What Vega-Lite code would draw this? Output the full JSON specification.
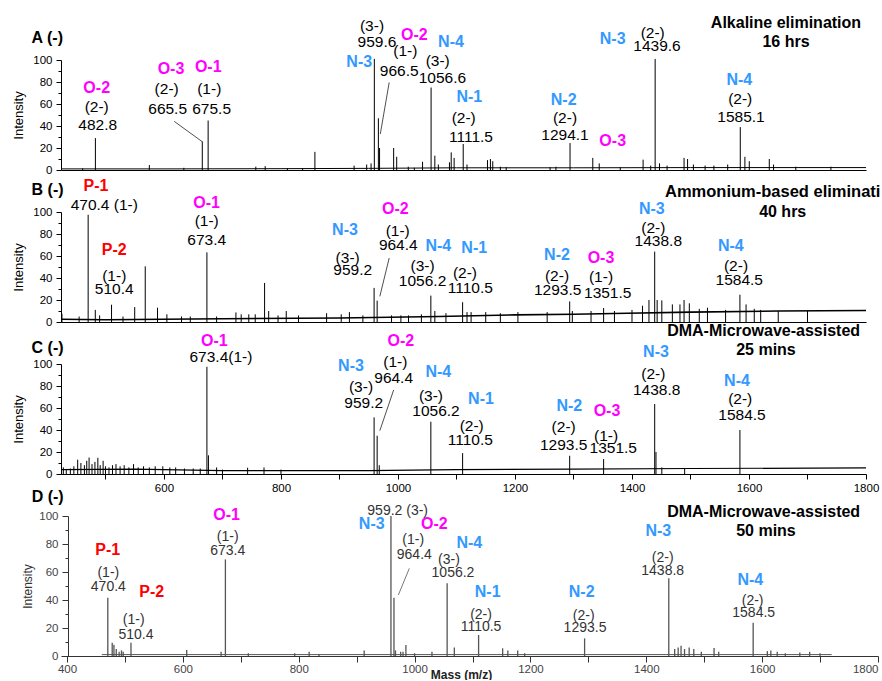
{
"$schema": "https://vega.github.io/schema/vega-lite/v6.json",
"background": "white",
"padding": {"left": 12, "top": 14, "right": 0, "bottom": 0},
"spacing": 42,
"bounds": "flush",
"config": {"font": "Liberation Sans", "view": {"stroke": null}, "axis": {"grid": false, "domainColor": "black", "tickColor": "black", "labelColor": "black", "labelFontSize": 11.5, "labelOverlap": false}},
"datasets": {
"peaks": [
{"p":"A","mz":461,"i":1.5},{"p":"A","mz":482.8,"i":29},{"p":"A","mz":575,"i":4.5},{"p":"A","mz":634,"i":2},{"p":"A","mz":665.5,"i":26},{"p":"A","mz":675.5,"i":45},{"p":"A","mz":757,"i":3},{"p":"A","mz":773,"i":3.5},{"p":"A","mz":811,"i":1.5},{"p":"A","mz":837,"i":1.5},{"p":"A","mz":858,"i":16.5},{"p":"A","mz":925,"i":4},{"p":"A","mz":946.5,"i":5},{"p":"A","mz":954,"i":6},{"p":"A","mz":959.6,"i":101},{"p":"A","mz":966.5,"i":47},{"p":"A","mz":968.5,"i":20},{"p":"A","mz":992.6,"i":20},{"p":"A","mz":997.8,"i":12},{"p":"A","mz":1017.6,"i":3},{"p":"A","mz":1028,"i":2},{"p":"A","mz":1042,"i":7.5},{"p":"A","mz":1056.6,"i":75},{"p":"A","mz":1063,"i":13},{"p":"A","mz":1069,"i":5},{"p":"A","mz":1088,"i":7},{"p":"A","mz":1091,"i":16},{"p":"A","mz":1096,"i":11},{"p":"A","mz":1111.5,"i":23.6},{"p":"A","mz":1118,"i":5},{"p":"A","mz":1153,"i":9},{"p":"A","mz":1158,"i":10},{"p":"A","mz":1162,"i":8},{"p":"A","mz":1175,"i":3},{"p":"A","mz":1185,"i":2.5},{"p":"A","mz":1260,"i":2.5},{"p":"A","mz":1270,"i":3},{"p":"A","mz":1294.1,"i":24.5},{"p":"A","mz":1333,"i":11},{"p":"A","mz":1344,"i":6},{"p":"A","mz":1380,"i":2.5},{"p":"A","mz":1419,"i":9.4},{"p":"A","mz":1432,"i":4},{"p":"A","mz":1439.6,"i":101},{"p":"A","mz":1447,"i":6},{"p":"A","mz":1460,"i":4},{"p":"A","mz":1489,"i":11},{"p":"A","mz":1495,"i":10},{"p":"A","mz":1505,"i":5},{"p":"A","mz":1525,"i":4},{"p":"A","mz":1540,"i":4},{"p":"A","mz":1563.6,"i":5},{"p":"A","mz":1585.1,"i":39},{"p":"A","mz":1593,"i":12},{"p":"A","mz":1600.5,"i":8},{"p":"A","mz":1634.7,"i":10},{"p":"A","mz":1642,"i":5},{"p":"A","mz":1680,"i":3},{"p":"A","mz":1740,"i":3},
{"p":"B","mz":425.6,"i":7.5},{"p":"B","mz":455,"i":5},{"p":"B","mz":470.4,"i":97.5},{"p":"B","mz":482.6,"i":11},{"p":"B","mz":490,"i":6},{"p":"B","mz":510.4,"i":15.7},{"p":"B","mz":530,"i":5},{"p":"B","mz":550,"i":13.6},{"p":"B","mz":568,"i":50.6},{"p":"B","mz":589,"i":13},{"p":"B","mz":605,"i":7},{"p":"B","mz":630,"i":5},{"p":"B","mz":645,"i":5},{"p":"B","mz":673.4,"i":63.3},{"p":"B","mz":690,"i":5},{"p":"B","mz":723,"i":8.7},{"p":"B","mz":732,"i":7},{"p":"B","mz":745,"i":7},{"p":"B","mz":756,"i":7},{"p":"B","mz":772,"i":35.5},{"p":"B","mz":779,"i":10},{"p":"B","mz":795,"i":6},{"p":"B","mz":809,"i":10},{"p":"B","mz":830,"i":6},{"p":"B","mz":878,"i":8},{"p":"B","mz":903,"i":7},{"p":"B","mz":917,"i":9},{"p":"B","mz":940,"i":6},{"p":"B","mz":959.2,"i":31},{"p":"B","mz":964.4,"i":19.4},{"p":"B","mz":989,"i":6},{"p":"B","mz":1005,"i":6},{"p":"B","mz":1018,"i":6},{"p":"B","mz":1040,"i":7},{"p":"B","mz":1056.2,"i":24},{"p":"B","mz":1063,"i":10},{"p":"B","mz":1082,"i":8},{"p":"B","mz":1110.5,"i":18},{"p":"B","mz":1118,"i":9},{"p":"B","mz":1125,"i":9},{"p":"B","mz":1150,"i":9},{"p":"B","mz":1175,"i":8},{"p":"B","mz":1205,"i":9},{"p":"B","mz":1255,"i":9},{"p":"B","mz":1293.5,"i":18.7},{"p":"B","mz":1298,"i":10},{"p":"B","mz":1330,"i":10},{"p":"B","mz":1351.5,"i":12.7},{"p":"B","mz":1370,"i":10},{"p":"B","mz":1400,"i":11},{"p":"B","mz":1418,"i":14.8},{"p":"B","mz":1429,"i":20},{"p":"B","mz":1438.8,"i":64},{"p":"B","mz":1443,"i":20},{"p":"B","mz":1451,"i":19.6},{"p":"B","mz":1469,"i":16},{"p":"B","mz":1482,"i":16},{"p":"B","mz":1489,"i":20},{"p":"B","mz":1498,"i":17},{"p":"B","mz":1515,"i":12},{"p":"B","mz":1529,"i":13},{"p":"B","mz":1560,"i":11},{"p":"B","mz":1584.5,"i":24.8},{"p":"B","mz":1595,"i":16},{"p":"B","mz":1609,"i":12},{"p":"B","mz":1620,"i":11},{"p":"B","mz":1650,"i":10},{"p":"B","mz":1700,"i":10},
{"p":"C","mz":428,"i":6},{"p":"C","mz":433,"i":4},{"p":"C","mz":440,"i":5},{"p":"C","mz":446,"i":7},{"p":"C","mz":452.5,"i":13},{"p":"C","mz":458,"i":10},{"p":"C","mz":464,"i":8},{"p":"C","mz":468,"i":12},{"p":"C","mz":472,"i":15},{"p":"C","mz":477,"i":9},{"p":"C","mz":482,"i":11},{"p":"C","mz":487,"i":14.7},{"p":"C","mz":491,"i":8},{"p":"C","mz":496,"i":12},{"p":"C","mz":500,"i":7},{"p":"C","mz":506,"i":6},{"p":"C","mz":512,"i":8},{"p":"C","mz":518,"i":9},{"p":"C","mz":525,"i":7},{"p":"C","mz":532,"i":8},{"p":"C","mz":540,"i":6},{"p":"C","mz":548,"i":9},{"p":"C","mz":556,"i":6},{"p":"C","mz":565,"i":7},{"p":"C","mz":575,"i":6},{"p":"C","mz":585,"i":7},{"p":"C","mz":598,"i":7},{"p":"C","mz":610,"i":6},{"p":"C","mz":620,"i":6},{"p":"C","mz":635,"i":5},{"p":"C","mz":650,"i":5},{"p":"C","mz":662,"i":5},{"p":"C","mz":673.4,"i":97.5},{"p":"C","mz":676,"i":17},{"p":"C","mz":690,"i":6},{"p":"C","mz":700,"i":4},{"p":"C","mz":743,"i":5.7},{"p":"C","mz":771,"i":6},{"p":"C","mz":800,"i":4},{"p":"C","mz":959.2,"i":51.5},{"p":"C","mz":964.4,"i":34.8},{"p":"C","mz":968,"i":8},{"p":"C","mz":1056.2,"i":47.5},{"p":"C","mz":1110.5,"i":19},{"p":"C","mz":1293.5,"i":16.6},{"p":"C","mz":1351.5,"i":13.6},{"p":"C","mz":1438.8,"i":63.6},{"p":"C","mz":1441,"i":20},{"p":"C","mz":1451,"i":6},{"p":"C","mz":1490,"i":5},{"p":"C","mz":1584.5,"i":40},
{"p":"D","mz":470.4,"i":41.6},{"p":"D","mz":478,"i":9.5},{"p":"D","mz":481,"i":8},{"p":"D","mz":485,"i":5},{"p":"D","mz":490,"i":3},{"p":"D","mz":494,"i":4},{"p":"D","mz":497,"i":3},{"p":"D","mz":510.4,"i":9.5},{"p":"D","mz":606.6,"i":4.3},{"p":"D","mz":666,"i":3},{"p":"D","mz":673.4,"i":69},{"p":"D","mz":713,"i":2},{"p":"D","mz":793,"i":2},{"p":"D","mz":818,"i":3},{"p":"D","mz":835,"i":1.5},{"p":"D","mz":913,"i":4},{"p":"D","mz":959.2,"i":100},{"p":"D","mz":964.4,"i":41.6},{"p":"D","mz":967,"i":4},{"p":"D","mz":976,"i":3},{"p":"D","mz":980,"i":3},{"p":"D","mz":985,"i":7.8},{"p":"D","mz":1000,"i":2},{"p":"D","mz":1030,"i":3},{"p":"D","mz":1056.2,"i":52},{"p":"D","mz":1068.6,"i":6},{"p":"D","mz":1110.5,"i":15},{"p":"D","mz":1152,"i":5.5},{"p":"D","mz":1161,"i":4},{"p":"D","mz":1178,"i":4},{"p":"D","mz":1190,"i":2},{"p":"D","mz":1293.5,"i":12.6},{"p":"D","mz":1438.8,"i":55.5},{"p":"D","mz":1449,"i":5},{"p":"D","mz":1455,"i":6},{"p":"D","mz":1460,"i":7.4},{"p":"D","mz":1466,"i":5},{"p":"D","mz":1474,"i":6},{"p":"D","mz":1482,"i":5},{"p":"D","mz":1495,"i":3},{"p":"D","mz":1517,"i":5.7},{"p":"D","mz":1525,"i":3},{"p":"D","mz":1584.5,"i":23.8},{"p":"D","mz":1609,"i":3.5},{"p":"D","mz":1615,"i":4},{"p":"D","mz":1626,"i":3},{"p":"D","mz":1640,"i":2},{"p":"D","mz":1665,"i":2.5},{"p":"D","mz":1682,"i":3},{"p":"D","mz":1700,"i":2}
],
"base": [
{"p":"A","mz":424,"i":1},{"p":"A","mz":600,"i":1},{"p":"A","mz":800,"i":1.2},{"p":"A","mz":950,"i":1.5},{"p":"A","mz":1100,"i":2},{"p":"A","mz":1300,"i":2},{"p":"A","mz":1500,"i":2.2},{"p":"A","mz":1800,"i":2.2},
{"p":"B","mz":424,"i":2.5},{"p":"B","mz":500,"i":2},{"p":"B","mz":700,"i":3},{"p":"B","mz":900,"i":3.6},{"p":"B","mz":1070,"i":5},{"p":"B","mz":1200,"i":6.5},{"p":"B","mz":1300,"i":7},{"p":"B","mz":1392,"i":8},{"p":"B","mz":1500,"i":9},{"p":"B","mz":1650,"i":10},{"p":"B","mz":1800,"i":10.5},
{"p":"C","mz":424,"i":4},{"p":"C","mz":550,"i":4.5},{"p":"C","mz":700,"i":3},{"p":"C","mz":800,"i":3},{"p":"C","mz":950,"i":3},{"p":"C","mz":1100,"i":4},{"p":"C","mz":1300,"i":4.5},{"p":"C","mz":1500,"i":5},{"p":"C","mz":1800,"i":5.5},
{"p":"D","mz":460,"i":1},{"p":"D","mz":1720,"i":1}
],
"leaders": [
{"p":"A","mz":617.6,"y":44.2,"mz2":665.5,"y2":25.7},{"p":"A","mz":985,"y":79.6,"mz2":969.8,"y2":32.7},
{"p":"B","mz":985,"y":58.2,"mz2":969,"y2":23.3},
{"p":"C","mz":992.6,"y":76.4,"mz2":969,"y2":39.4},
{"p":"D","mz":990.9,"y":62.6,"mz2":972,"y2":43.6}
],
"labels": [
{"p":"A","k":"L","mz":400.5,"y":120,"t":"A (-)"},
{"p":"A","k":"O","mz":485,"y":74.5,"t":"O-2"},{"p":"A","k":"n","mz":485,"y":57.5,"t":"(2-)"},{"p":"A","k":"n","mz":486.7,"y":41,"t":"482.8"},
{"p":"A","k":"O","mz":612,"y":91.8,"t":"O-3"},{"p":"A","k":"n","mz":604.6,"y":73.6,"t":"(2-)"},{"p":"A","k":"n","mz":606.3,"y":55.5,"t":"665.5"},
{"p":"A","k":"O","mz":675.7,"y":93.3,"t":"O-1"},{"p":"A","k":"n","mz":677.4,"y":73.6,"t":"(1-)"},{"p":"A","k":"n","mz":681.5,"y":55.5,"t":"675.5"},
{"p":"A","k":"n","mz":955.6,"y":131,"t":"(3-)"},{"p":"A","k":"n","mz":964.1,"y":116,"t":"959.6"},{"p":"A","k":"N","mz":933.8,"y":98.5,"t":"N-3"},
{"p":"A","k":"O","mz":1027.9,"y":122.7,"t":"O-2"},{"p":"A","k":"n","mz":1012.5,"y":107.8,"t":"(1-)"},{"p":"A","k":"n","mz":1002.2,"y":90.3,"t":"966.5"},
{"p":"A","k":"N","mz":1090.6,"y":116,"t":"N-4"},{"p":"A","k":"n","mz":1067.9,"y":99.4,"t":"(3-)"},{"p":"A","k":"n","mz":1076,"y":84,"t":"1056.6"},
{"p":"A","k":"N","mz":1122,"y":66,"t":"N-1"},{"p":"A","k":"n","mz":1112.3,"y":47.3,"t":"(2-)"},{"p":"A","k":"n","mz":1124.8,"y":29.6,"t":"1111.5"},
{"p":"A","k":"N","mz":1283.2,"y":63.6,"t":"N-2"},{"p":"A","k":"n","mz":1285.5,"y":47.3,"t":"(2-)"},{"p":"A","k":"n","mz":1285.5,"y":32,"t":"1294.1"},
{"p":"A","k":"O","mz":1367,"y":26.6,"t":"O-3"},
{"p":"A","k":"N","mz":1367,"y":119,"t":"N-3"},{"p":"A","k":"n","mz":1435.4,"y":125,"t":"(2-)"},{"p":"A","k":"n","mz":1442.7,"y":113,"t":"1439.6"},
{"p":"A","k":"N","mz":1583.4,"y":81.8,"t":"N-4"},{"p":"A","k":"n","mz":1585,"y":64.5,"t":"(2-)"},{"p":"A","k":"n","mz":1586.3,"y":47.8,"t":"1585.1"},
{"p":"A","k":"T","mz":1663.2,"y":134,"t":"Alkaline elimination"},{"p":"A","k":"T","mz":1663.2,"y":116,"t":"16 hrs"},
{"p":"B","k":"L","mz":401,"y":120.3,"t":"B (-)"},
{"p":"B","k":"P","mz":483.8,"y":123.3,"t":"P-1"},{"p":"B","k":"n","mz":498,"y":106.6,"t":"470.4 (1-)"},
{"p":"B","k":"P","mz":515,"y":65.7,"t":"P-2"},{"p":"B","k":"n","mz":515,"y":42,"t":"(1-)"},{"p":"B","k":"n","mz":515,"y":30,"t":"510.4"},
{"p":"B","k":"O","mz":673,"y":108,"t":"O-1"},{"p":"B","k":"n","mz":673,"y":91.5,"t":"(1-)"},{"p":"B","k":"n","mz":673,"y":74.8,"t":"673.4"},
{"p":"B","k":"N","mz":909.4,"y":84,"t":"N-3"},{"p":"B","k":"n","mz":914,"y":58.2,"t":"(3-)"},{"p":"B","k":"n","mz":922.6,"y":47.5,"t":"959.2"},
{"p":"B","k":"O","mz":995.4,"y":102.7,"t":"O-2"},{"p":"B","k":"n","mz":999.5,"y":82.4,"t":"(1-)"},{"p":"B","k":"n","mz":1000.5,"y":70.3,"t":"964.4"},
{"p":"B","k":"N","mz":1069,"y":69.4,"t":"N-4"},{"p":"B","k":"n","mz":1042,"y":51.2,"t":"(3-)"},{"p":"B","k":"n","mz":1042,"y":37,"t":"1056.2"},
{"p":"B","k":"N","mz":1130.4,"y":67.3,"t":"N-1"},{"p":"B","k":"n","mz":1114.5,"y":44.5,"t":"(2-)"},{"p":"B","k":"n","mz":1123.6,"y":30.9,"t":"1110.5"},
{"p":"B","k":"N","mz":1271.8,"y":61.2,"t":"N-2"},{"p":"B","k":"n","mz":1271.8,"y":42,"t":"(2-)"},{"p":"B","k":"n","mz":1273,"y":28.7,"t":"1293.5"},
{"p":"B","k":"O","mz":1347,"y":58.2,"t":"O-3"},{"p":"B","k":"n","mz":1347,"y":40.9,"t":"(1-)"},{"p":"B","k":"n","mz":1358.5,"y":26.4,"t":"1351.5"},
{"p":"B","k":"N","mz":1434,"y":102.7,"t":"N-3"},{"p":"B","k":"n","mz":1436.5,"y":85.5,"t":"(2-)"},{"p":"B","k":"n","mz":1445,"y":73.3,"t":"1438.8"},
{"p":"B","k":"N","mz":1569,"y":69.4,"t":"N-4"},{"p":"B","k":"n","mz":1577.8,"y":50.6,"t":"(2-)"},{"p":"B","k":"n","mz":1583.4,"y":37.8,"t":"1584.5"},
{"p":"B","k":"TL","mz":1456.4,"y":117.8,"t":"Ammonium-based elimination"},{"p":"B","k":"T","mz":1657.6,"y":99.6,"t":"40 hrs"},
{"p":"C","k":"L","mz":401,"y":115,"t":"C (-)"},
{"p":"C","k":"O","mz":686,"y":121.2,"t":"O-1"},{"p":"C","k":"n","mz":697.4,"y":106,"t":"673.4(1-)"},
{"p":"C","k":"N","mz":919.7,"y":98.5,"t":"N-3"},{"p":"C","k":"n","mz":936.8,"y":78.7,"t":"(3-)"},{"p":"C","k":"n","mz":941.4,"y":65,"t":"959.2"},
{"p":"C","k":"O","mz":1005,"y":121.2,"t":"O-2"},{"p":"C","k":"n","mz":995.4,"y":101.5,"t":"(1-)"},{"p":"C","k":"n","mz":992.6,"y":87.3,"t":"964.4"},
{"p":"C","k":"N","mz":1069,"y":93,"t":"N-4"},{"p":"C","k":"n","mz":1056.4,"y":71.2,"t":"(3-)"},{"p":"C","k":"n","mz":1065,"y":57.5,"t":"1056.2"},
{"p":"C","k":"N","mz":1141.9,"y":68.2,"t":"N-1"},{"p":"C","k":"n","mz":1126,"y":43.9,"t":"(2-)"},{"p":"C","k":"n","mz":1123.6,"y":31.2,"t":"1110.5"},
{"p":"C","k":"N","mz":1292.8,"y":62.1,"t":"N-2"},{"p":"C","k":"n","mz":1283.2,"y":42.4,"t":"(2-)"},{"p":"C","k":"n","mz":1283.2,"y":26.6,"t":"1293.5"},
{"p":"C","k":"O","mz":1357.3,"y":56.9,"t":"O-3"},{"p":"C","k":"n","mz":1355.6,"y":34.8,"t":"(1-)"},{"p":"C","k":"n","mz":1368,"y":23.6,"t":"1351.5"},
{"p":"C","k":"N","mz":1441,"y":110.5,"t":"N-3"},{"p":"C","k":"n","mz":1436.5,"y":90.9,"t":"(2-)"},{"p":"C","k":"n","mz":1442.2,"y":76.4,"t":"1438.8"},
{"p":"C","k":"N","mz":1579.5,"y":84.8,"t":"N-4"},{"p":"C","k":"n","mz":1585,"y":68.2,"t":"(2-)"},{"p":"C","k":"n","mz":1588,"y":53.9,"t":"1584.5"},
{"p":"C","k":"T","mz":1625,"y":130,"t":"DMA-Microwave-assisted"},{"p":"C","k":"T","mz":1629,"y":112.7,"t":"25 mins"},
{"p":"D","k":"L","mz":366.6,"y":113.8,"t":"D (-)"},
{"p":"D","k":"P","mz":470.2,"y":75.7,"t":"P-1"},{"p":"D","k":"n","mz":471.3,"y":59,"t":"(1-)"},{"p":"D","k":"n","mz":471.3,"y":49.5,"t":"470.4"},
{"p":"D","k":"P","mz":546.2,"y":46,"t":"P-2"},{"p":"D","k":"n","mz":515.1,"y":25.7,"t":"(1-)"},{"p":"D","k":"n","mz":519.1,"y":15,"t":"510.4"},
{"p":"D","k":"O","mz":675.6,"y":100.7,"t":"O-1"},{"p":"D","k":"n","mz":677.4,"y":85.2,"t":"(1-)"},{"p":"D","k":"n","mz":677.4,"y":75,"t":"673.4"},
{"p":"D","k":"n","mz":970.8,"y":103.6,"t":"959.2 (3-)"},{"p":"D","k":"N","mz":926,"y":94,"t":"N-3"},
{"p":"D","k":"O","mz":1034,"y":94,"t":"O-2"},{"p":"D","k":"n","mz":997.7,"y":82.8,"t":"(1-)"},{"p":"D","k":"n","mz":999.5,"y":72,"t":"964.4"},
{"p":"D","k":"N","mz":1094.5,"y":81,"t":"N-4"},{"p":"D","k":"n","mz":1059.4,"y":68.6,"t":"(3-)"},{"p":"D","k":"n","mz":1066.3,"y":59,"t":"1056.2"},
{"p":"D","k":"N","mz":1126.2,"y":46,"t":"N-1"},{"p":"D","k":"n","mz":1114.7,"y":29.3,"t":"(2-)"},{"p":"D","k":"n","mz":1114.7,"y":21,"t":"1110.5"},
{"p":"D","k":"N","mz":1288.4,"y":46,"t":"N-2"},{"p":"D","k":"n","mz":1291.9,"y":28.8,"t":"(2-)"},{"p":"D","k":"n","mz":1294.2,"y":19.7,"t":"1293.5"},
{"p":"D","k":"N","mz":1420.7,"y":89.3,"t":"N-3"},{"p":"D","k":"n","mz":1428.3,"y":69.7,"t":"(2-)"},{"p":"D","k":"n","mz":1428.3,"y":60.7,"t":"1438.8"},
{"p":"D","k":"N","mz":1579.5,"y":54.3,"t":"N-4"},{"p":"D","k":"n","mz":1583.6,"y":39.3,"t":"(2-)"},{"p":"D","k":"n","mz":1585.4,"y":30.4,"t":"1584.5"},
{"p":"D","k":"T","mz":1602.6,"y":103,"t":"DMA-Microwave-assisted"},{"p":"D","k":"T","mz":1606.6,"y":89.3,"t":"50 mins"}
]
},
"vconcat": [
{
"width": 805, "height": 110,
"layer": [
{"data": {"name": "base"}, "transform": [{"filter": "datum.p === 'A'"}], "mark": {"type": "line", "color": "black", "strokeWidth": 1},
 "encoding": {
  "x": {"field": "mz", "type": "quantitative", "scale": {"domain": [424, 1800], "nice": false, "zero": false}, "axis": {"title": null, "labels": false, "ticks": false}},
  "y": {"field": "i", "type": "quantitative", "scale": {"domain": [0, 100], "nice": false}, "axis": {"title": "Intensity", "values": [0,10,20,30,40,50,60,70,80,90,100], "tickCount": 30, "labelOverlap": false, "labelExpr": "datum.value % 20 === 0 ? datum.label : ''", "tickSize": {"condition": {"test": "datum.value % 20 === 0", "value": 5}, "value": 3}, "labelPadding": 4, "titleFontSize": 13, "titleFontWeight": "normal", "titlePadding": 7}}}},
{"data": {"name": "peaks"}, "transform": [{"filter": "datum.p === 'A'"}], "mark": {"type": "rule", "color": "black", "strokeWidth": 1},
 "encoding": {"x": {"field": "mz", "type": "quantitative"}, "y": {"field": "i", "type": "quantitative"}, "y2": {"datum": 0}}},
{"data": {"name": "leaders"}, "transform": [{"filter": "datum.p === 'A'"}], "mark": {"type": "rule", "color": "#222", "strokeWidth": 0.8},
 "encoding": {"x": {"field": "mz", "type": "quantitative"}, "y": {"field": "y", "type": "quantitative"}, "x2": {"field": "mz2"}, "y2": {"field": "y2"}}},
{"data": {"name": "labels"}, "transform": [{"filter": "datum.p === 'A' && datum.k !== 'n' && datum.k !== 'TL'"}], "mark": {"type": "text", "fontWeight": "bold", "align": "center", "baseline": "middle"},
 "encoding": {"x": {"field": "mz", "type": "quantitative"}, "y": {"field": "y", "type": "quantitative"}, "text": {"field": "t"},
  "color": {"field": "k", "type": "nominal", "scale": {"domain": ["N","O","P","T","L"], "range": ["#3399ff","#ff00ff","#ff0000","#000000","#000000"]}, "legend": null},
  "size": {"field": "k", "type": "nominal", "scale": {"domain": ["N","O","P","T","L"], "range": [16,16,16,16.5,20.5]}, "legend": null}}},
{"data": {"name": "labels"}, "transform": [{"filter": "datum.p === 'A' && datum.k === 'n'"}], "mark": {"type": "text", "fontSize": 15.5, "align": "center", "baseline": "middle", "color": "black"},
 "encoding": {"x": {"field": "mz", "type": "quantitative"}, "y": {"field": "y", "type": "quantitative"}, "text": {"field": "t"}}}
]
},
{
"width": 805, "height": 110,
"layer": [
{"data": {"name": "base"}, "transform": [{"filter": "datum.p === 'B'"}], "mark": {"type": "line", "color": "black", "strokeWidth": 1.6},
 "encoding": {
  "x": {"field": "mz", "type": "quantitative", "scale": {"domain": [424, 1800], "nice": false, "zero": false}, "axis": {"title": null, "labels": false, "ticks": false}},
  "y": {"field": "i", "type": "quantitative", "scale": {"domain": [0, 100], "nice": false}, "axis": {"title": "Intensity", "values": [0,10,20,30,40,50,60,70,80,90,100], "tickCount": 30, "labelOverlap": false, "labelExpr": "datum.value % 20 === 0 ? datum.label : ''", "tickSize": {"condition": {"test": "datum.value % 20 === 0", "value": 5}, "value": 3}, "labelPadding": 4, "titleFontSize": 13, "titleFontWeight": "normal", "titlePadding": 7}}}},
{"data": {"name": "peaks"}, "transform": [{"filter": "datum.p === 'B'"}], "mark": {"type": "rule", "color": "black", "strokeWidth": 1},
 "encoding": {"x": {"field": "mz", "type": "quantitative"}, "y": {"field": "i", "type": "quantitative"}, "y2": {"datum": 0}}},
{"data": {"name": "leaders"}, "transform": [{"filter": "datum.p === 'B'"}], "mark": {"type": "rule", "color": "#222", "strokeWidth": 0.8},
 "encoding": {"x": {"field": "mz", "type": "quantitative"}, "y": {"field": "y", "type": "quantitative"}, "x2": {"field": "mz2"}, "y2": {"field": "y2"}}},
{"data": {"name": "labels"}, "transform": [{"filter": "datum.p === 'B' && datum.k !== 'n' && datum.k !== 'TL'"}], "mark": {"type": "text", "fontWeight": "bold", "align": "center", "baseline": "middle"},
 "encoding": {"x": {"field": "mz", "type": "quantitative"}, "y": {"field": "y", "type": "quantitative"}, "text": {"field": "t"},
  "color": {"field": "k", "type": "nominal", "scale": {"domain": ["N","O","P","T","L"], "range": ["#3399ff","#ff00ff","#ff0000","#000000","#000000"]}, "legend": null},
  "size": {"field": "k", "type": "nominal", "scale": {"domain": ["N","O","P","T","L"], "range": [16,16,16,16.5,20.5]}, "legend": null}}},
{"data": {"name": "labels"}, "transform": [{"filter": "datum.p === 'B' && datum.k === 'TL'"}], "mark": {"type": "text", "fontWeight": "bold", "fontSize": 16.5, "align": "left", "baseline": "middle", "color": "black", "limit": 218, "ellipsis": "\u200b"},
 "encoding": {"x": {"field": "mz", "type": "quantitative"}, "y": {"field": "y", "type": "quantitative"}, "text": {"field": "t"}}},
{"data": {"name": "labels"}, "transform": [{"filter": "datum.p === 'B' && datum.k === 'n'"}], "mark": {"type": "text", "fontSize": 15.5, "align": "center", "baseline": "middle", "color": "black"},
 "encoding": {"x": {"field": "mz", "type": "quantitative"}, "y": {"field": "y", "type": "quantitative"}, "text": {"field": "t"}}}
]
},
{
"width": 805, "height": 110,
"layer": [
{"data": {"name": "base"}, "transform": [{"filter": "datum.p === 'C'"}], "mark": {"type": "line", "color": "black", "strokeWidth": 1.2},
 "encoding": {
  "x": {"field": "mz", "type": "quantitative", "scale": {"domain": [424, 1800], "nice": false, "zero": false}, "axis": {"title": null, "values": [500,600,700,800,900,1000,1100,1200,1300,1400,1500,1600,1700,1800], "tickCount": 40, "format": "d", "labelOverlap": false, "labelExpr": "datum.value % 200 === 0 ? datum.label : ''", "labelFlush": false, "tickSize": 5, "labelPadding": 3}},
  "y": {"field": "i", "type": "quantitative", "scale": {"domain": [0, 100], "nice": false}, "axis": {"title": "Intensity", "values": [0,10,20,30,40,50,60,70,80,90,100], "tickCount": 30, "labelOverlap": false, "labelExpr": "datum.value % 20 === 0 ? datum.label : ''", "tickSize": {"condition": {"test": "datum.value % 20 === 0", "value": 5}, "value": 3}, "labelPadding": 4, "titleFontSize": 13, "titleFontWeight": "normal", "titlePadding": 7}}}},
{"data": {"name": "peaks"}, "transform": [{"filter": "datum.p === 'C'"}], "mark": {"type": "rule", "color": "black", "strokeWidth": 1},
 "encoding": {"x": {"field": "mz", "type": "quantitative"}, "y": {"field": "i", "type": "quantitative"}, "y2": {"datum": 0}}},
{"data": {"name": "leaders"}, "transform": [{"filter": "datum.p === 'C'"}], "mark": {"type": "rule", "color": "#222", "strokeWidth": 0.8},
 "encoding": {"x": {"field": "mz", "type": "quantitative"}, "y": {"field": "y", "type": "quantitative"}, "x2": {"field": "mz2"}, "y2": {"field": "y2"}}},
{"data": {"name": "labels"}, "transform": [{"filter": "datum.p === 'C' && datum.k !== 'n' && datum.k !== 'TL'"}], "mark": {"type": "text", "fontWeight": "bold", "align": "center", "baseline": "middle"},
 "encoding": {"x": {"field": "mz", "type": "quantitative"}, "y": {"field": "y", "type": "quantitative"}, "text": {"field": "t"},
  "color": {"field": "k", "type": "nominal", "scale": {"domain": ["N","O","P","T","L"], "range": ["#3399ff","#ff00ff","#ff0000","#000000","#000000"]}, "legend": null},
  "size": {"field": "k", "type": "nominal", "scale": {"domain": ["N","O","P","T","L"], "range": [16,16,16,16.5,20.5]}, "legend": null}}},
{"data": {"name": "labels"}, "transform": [{"filter": "datum.p === 'C' && datum.k === 'n'"}], "mark": {"type": "text", "fontSize": 15.5, "align": "center", "baseline": "middle", "color": "black"},
 "encoding": {"x": {"field": "mz", "type": "quantitative"}, "y": {"field": "y", "type": "quantitative"}, "text": {"field": "t"}}}
]
},
{
"width": 817, "height": 140,
"layer": [
{"data": {"name": "base"}, "transform": [{"filter": "datum.p === 'D'"}], "mark": {"type": "line", "color": "#555", "strokeWidth": 1},
 "encoding": {
  "x": {"field": "mz", "type": "quantitative", "scale": {"domain": [389.6, 1800], "nice": false, "zero": false}, "axis": {"title": "Mass (m/z)", "titleFontWeight": "bold", "titleFontSize": 12, "titleColor": "#222", "titleX": 400, "titleY": 18, "titleBaseline": "middle", "values": [400,500,600,700,800,900,1000,1100,1200,1300,1400,1500,1600,1700,1800], "tickCount": 40, "format": "d", "labelOverlap": false, "labelExpr": "datum.value % 200 === 0 ? datum.label : ''", "tickSize": 6, "labelPadding": 1, "labelFlush": 3, "labelColor": "#444", "domainColor": "#333", "tickColor": "#333"}},
  "y": {"field": "i", "type": "quantitative", "scale": {"domain": [0, 100], "nice": false}, "axis": {"title": "Intensity", "offset": -7, "values": [0,10,20,30,40,50,60,70,80,90,100], "tickCount": 30, "labelOverlap": false, "labelExpr": "datum.value % 20 === 0 ? datum.label : ''", "tickSize": {"condition": {"test": "datum.value % 20 === 0", "value": 6}, "value": 3}, "labelPadding": 4, "labelColor": "#444", "domainColor": "#333", "tickColor": "#333", "titleFontSize": 12, "titleFontWeight": "normal", "titleColor": "#333", "titlePadding": 4}}}},
{"data": {"name": "peaks"}, "transform": [{"filter": "datum.p === 'D'"}], "mark": {"type": "rule", "color": "#555", "strokeWidth": 1.3},
 "encoding": {"x": {"field": "mz", "type": "quantitative"}, "y": {"field": "i", "type": "quantitative"}, "y2": {"datum": 0}}},
{"data": {"name": "leaders"}, "transform": [{"filter": "datum.p === 'D'"}], "mark": {"type": "rule", "color": "#555", "strokeWidth": 0.8},
 "encoding": {"x": {"field": "mz", "type": "quantitative"}, "y": {"field": "y", "type": "quantitative"}, "x2": {"field": "mz2"}, "y2": {"field": "y2"}}},
{"data": {"name": "labels"}, "transform": [{"filter": "datum.p === 'D' && datum.k !== 'n' && datum.k !== 'TL'"}], "mark": {"type": "text", "fontWeight": "bold", "align": "center", "baseline": "middle"},
 "encoding": {"x": {"field": "mz", "type": "quantitative"}, "y": {"field": "y", "type": "quantitative"}, "text": {"field": "t"},
  "color": {"field": "k", "type": "nominal", "scale": {"domain": ["N","O","P","T","L"], "range": ["#3399ff","#ff00ff","#ff0000","#000000","#000000"]}, "legend": null},
  "size": {"field": "k", "type": "nominal", "scale": {"domain": ["N","O","P","T","L"], "range": [16,16,16,16.5,20.5]}, "legend": null}}},
{"data": {"name": "labels"}, "transform": [{"filter": "datum.p === 'D' && datum.k === 'n'"}], "mark": {"type": "text", "fontSize": 14, "align": "center", "baseline": "middle", "color": "#333"},
 "encoding": {"x": {"field": "mz", "type": "quantitative"}, "y": {"field": "y", "type": "quantitative"}, "text": {"field": "t"}}}
]
}
]
}
